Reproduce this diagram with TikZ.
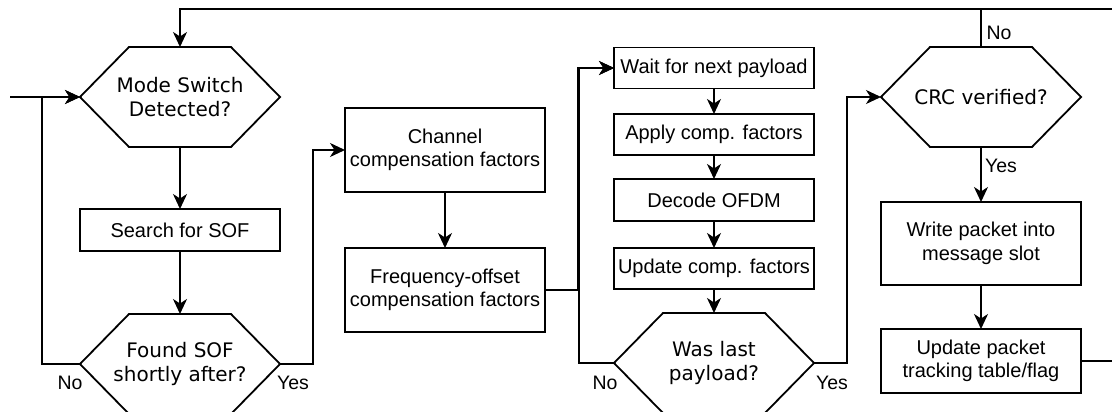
\documentclass[tikz,border=0pt]{standalone}
\usepackage{fontspec}
\setmainfont{Liberation Sans}
\newfontfamily\hexfont{DejaVu Sans}
\usetikzlibrary{arrows.meta,positioning,calc}

\begin{document}
\begin{tikzpicture}[
  x=1pt,y=-1pt,line width=1.8pt,
  flowbox/.style={draw,minimum width=200pt,align=center,inner sep=2pt,outer sep=0pt,
    font=\fontsize{20}{23.5}\selectfont},
  decision/.style={minimum width=200pt,minimum height=100pt,align=center,inner sep=2pt,
    outer sep=0pt,font=\hexfont\fontsize{20}{23.5}\selectfont},
  answer/.style={font=\fontsize{19.5}{22}\selectfont,inner sep=0pt},
  flow/.style={-{Stealth[length=15pt,width=14pt,inset=4.5pt]}}
]
  \useasboundingbox (0,0) rectangle (1112,412);
  \clip (0,0) rectangle (1112,412);

  % Frame search
  \node[decision] (mode) at (180,97) {Mode Switch\\Detected?};
  \node[flowbox,minimum height=42pt] (search) at (180,230) {Search for SOF};
  \node[decision] (found) at (180,364) {Found SOF\\shortly after?};
  % Compensation
  \node[flowbox,minimum height=84pt] (chan) at (445,150) {Channel\\compensation factors};
  \node[flowbox,minimum height=84pt] (freq) at (445,290) {Frequency-offset\\compensation factors};
  % Payload loop
  \node[flowbox,minimum height=41pt] (wait) at (714,68) {Wait for next payload};
  \node[flowbox,minimum height=41pt] (apply) at (714,134.5) {Apply comp. factors};
  \node[flowbox,minimum height=42pt] (decode) at (714,200) {Decode OFDM};
  \node[flowbox,minimum height=41pt] (upd) at (714,268.5) {Update comp. factors};
  \node[decision] (last) at (714,363) {Was last\\payload?};
  % Packet check
  \node[decision] (crc) at (981,97) {CRC verified?};
  \node[flowbox,minimum height=83pt] (write) at (981,243.5) {Write packet into\\message slot};
  \node[flowbox,minimum height=64pt] (track) at (981,361) {Update packet\\tracking table/flag};

  % hexagon outlines
  \foreach \h in {mode,found,last,crc}
    \draw (\h.west) -- ([xshift=49pt]\h.north west) -- ([xshift=-49pt]\h.north east)
      -- (\h.east) -- ([xshift=-49pt]\h.south east) -- ([xshift=49pt]\h.south west) -- cycle;

  % Branch labels
  \node[answer] (noFound) at (70,383) {No};
  \node[answer] (yesFound) at (293,383) {Yes};
  \node[answer] (noLast) at (605,383) {No};
  \node[answer] (yesLast) at (832,383) {Yes};
  \node[answer] (noCrc) at (999,33) {No};
  \node[answer] (yesCrc) at (1001,166) {Yes};

  \coordinate (entry) at (10,97);
  \coordinate (loopback) at (1130,9);

  \draw[flow] (entry) -- (mode.west);
  \draw[flow] (loopback) -| (mode.north);
  \draw[flow] (mode) -- (search);
  \draw[flow] (search) -- (found);
  \draw[flow] (found.west) -- ++(-38,0) |- (mode.west);
  \draw[flow] (found.east) -- ++(33,0) |- (chan.west);
  \draw[flow] (chan) -- (freq);
  \draw[flow] (freq.east) -- ++(33,0) |- (wait.west);
  \draw[flow] (wait) -- (apply);
  \draw[flow] (apply) -- (decode);
  \draw[flow] (decode) -- (upd);
  \draw[flow] (upd) -- (last);
  \draw[flow] (last.west) -- ++(-35,0) |- (wait.west);
  \draw[flow] (last.east) -- ++(33,0) |- (crc.west);
  \draw (crc.north) -- (crc.north |- loopback);
  \draw[flow] (crc) -- (write);
  \draw[flow] (write) -- (track);
  \draw (track.east) -- ++(60,0);
\end{tikzpicture}
\end{document}
